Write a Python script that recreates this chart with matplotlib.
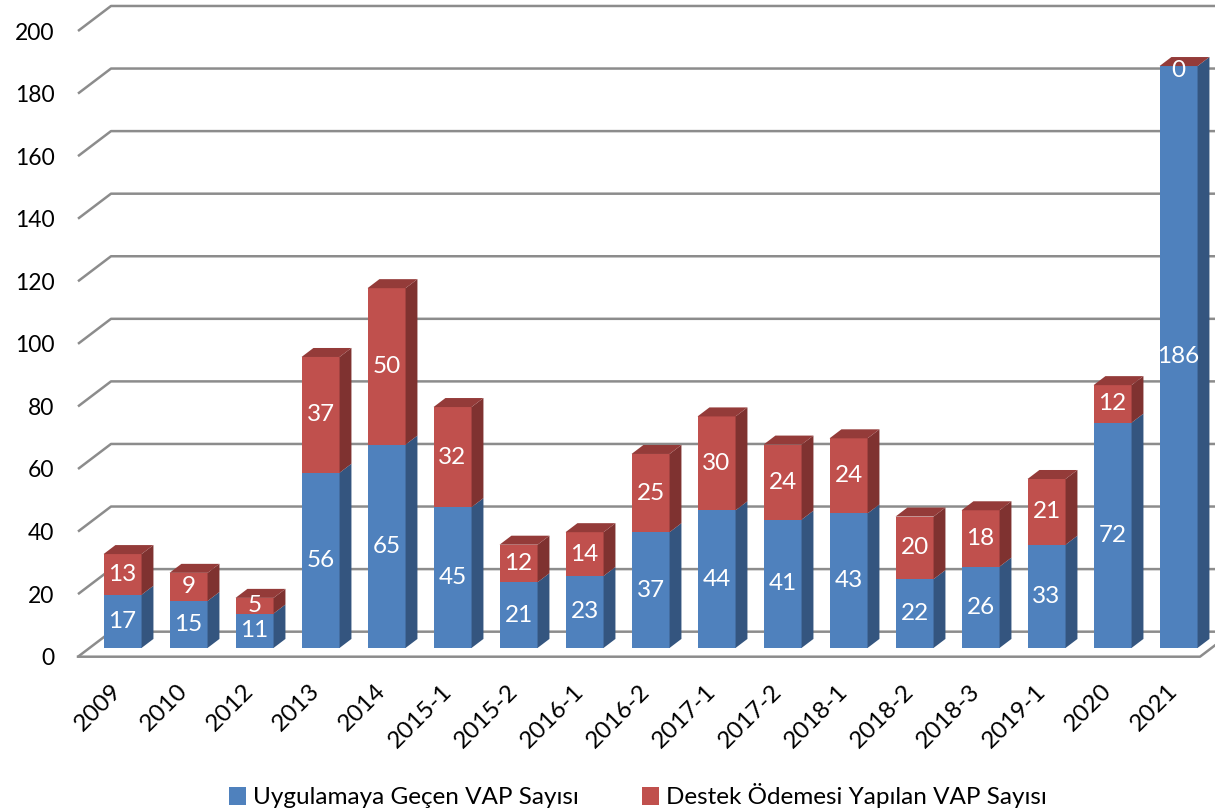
import matplotlib.pyplot as plt
from matplotlib.patches import Polygon, Patch

categories = ['2009', '2010', '2012', '2013', '2014', '2015-1', '2015-2', '2016-1',
              '2016-2', '2017-1', '2017-2', '2018-1', '2018-2', '2018-3', '2019-1',
              '2020', '2021']
uygulama = [17, 15, 11, 56, 65, 45, 21, 23, 37, 44, 41, 43, 22, 26, 33, 72, 186]
destek = [13, 9, 5, 37, 50, 32, 12, 14, 25, 30, 24, 24, 20, 18, 21, 12, 0]
y_ticks = list(range(0, 201, 20))

series = [
    ('Uygulamaya Geçen VAP Sayısı', uygulama, '#4F81BD', '#34557F'),
    ('Destek Ödemesi Yapılan VAP Sayısı', destek, '#C0504D', '#7F3230'),
]
top_color = '#943B39'
grid_color = '#8C8C8C'

plt.rcParams['font.family'] = ['Lato', 'DejaVu Sans']

fig = plt.figure(figsize=(12.15, 8.09), dpi=100)
ax = fig.add_axes([78 / 1215, 152.3 / 809, 1122 / 1215, 625.7 / 809])
ax.set_xlim(-0.5, len(categories) - 0.5)
ax.set_ylim(0, 200)

# fake 3D: depth of the wall in data units, bars sit inside it
wall_dx, wall_dy = 0.5, 8.0
z_front, z_back = 0.35, 0.71
bar_w = 0.576

# back wall gridlines and floor
for v in y_ticks:
    ax.plot([-0.5, -0.5 + wall_dx, len(categories) + 1], [v, v + wall_dy, v + wall_dy],
            color=grid_color, lw=1.8, clip_on=False, zorder=1, solid_capstyle='butt')
right = len(categories) - 0.5
ax.plot([-0.5, right, right + wall_dx], [0, 0, wall_dy], color=grid_color,
        lw=1.8, clip_on=False, zorder=1)

fx, fy = z_front * wall_dx, z_front * wall_dy
ddx, ddy = (z_back - z_front) * wall_dx, (z_back - z_front) * wall_dy

for i in range(len(categories)):
    base = 0
    xc = i + fx
    x1 = xc + bar_w / 2
    for name, vals, front, side in series:
        h = vals[i]
        y0, y1 = base + fy, base + h + fy
        ax.bar(xc, h, bar_w, bottom=y0, color=front, zorder=2, clip_on=False)
        ax.add_patch(Polygon([(x1, y0), (x1, y1), (x1 + ddx, y1 + ddy), (x1 + ddx, y0 + ddy)],
                             closed=True, facecolor=side, edgecolor='none', zorder=2,
                             clip_on=False))
        ymid = (y0 + y1) / 2 if h > 0 else y1 - 1.5
        ax.text(xc, ymid, str(h), ha='center', va='center', color='white',
                fontsize=17.5, zorder=4, clip_on=False)
        base += h
    ytop = base + fy
    x0 = xc - bar_w / 2
    ax.add_patch(Polygon([(x0, ytop), (x1, ytop), (x1 + ddx, ytop + ddy), (x0 + ddx, ytop + ddy)],
                         closed=True, facecolor=top_color, edgecolor='none', zorder=3,
                         clip_on=False))

ax.set_yticks(y_ticks)
ax.set_xticks(range(len(categories)))
ax.set_xticklabels(categories, rotation=45, ha='right', rotation_mode='anchor')
ax.tick_params(axis='both', length=0)
ax.tick_params(axis='y', pad=17, labelsize=16.5)
ax.tick_params(axis='x', pad=17, labelsize=17.5)
for s in ax.spines.values():
    s.set_visible(False)

handles = [Patch(facecolor=c, label=n) for n, _, c, _ in series]
fig.legend(handles=handles, loc='center', bbox_to_anchor=(0.525, 13 / 809), ncol=2,
           frameon=False, fontsize=17.5, handlelength=0.7, handleheight=0.7,
           handletextpad=0.3, columnspacing=2.6)

fig.savefig('out.png', dpi=100)
